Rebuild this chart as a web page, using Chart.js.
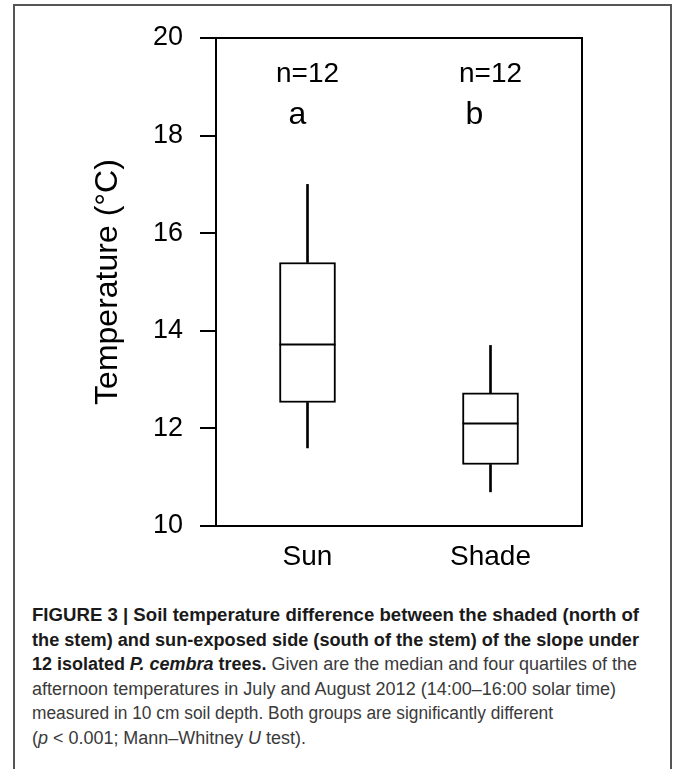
<!DOCTYPE html>
<html><head><meta charset="utf-8">
<script src="https://cdn.jsdelivr.net/npm/chart.js@4.4.1/dist/chart.umd.min.js"></script>
<style>
html,body{margin:0;padding:0;background:#fff;width:673px;height:769px;overflow:hidden;}
#frame{position:absolute;left:13px;top:4px;width:655px;height:800px;border:2px solid #555;border-bottom:none;}
#wrap{position:absolute;left:0;top:0;width:673px;height:600px;}
#caption{position:absolute;left:32px;top:603px;font-family:"Liberation Sans",Arial,sans-serif;font-size:18px;line-height:24.5px;color:#3a3a3a;}
#caption .ln{white-space:nowrap;display:block;width:max-content;transform-origin:0 50%;}
#caption b{color:#1a1a1a;}
</style></head>
<body>
<div id="frame"></div>
<div id="wrap"><canvas id="c"></canvas></div>
<div id="caption">
<span class="ln"><b>FIGURE 3 | Soil temperature difference between the shaded (north of</b></span>
<span class="ln"><b>the stem) and sun-exposed side (south of the stem) of the slope under</b></span>
<span class="ln"><b>12 isolated <i>P. cembra</i> trees.</b> Given are the median and four quartiles of the</span>
<span class="ln">afternoon temperatures in July and August 2012 (14:00–16:00 solar time)</span>
<span class="ln">measured in 10 cm soil depth. Both groups are significantly different</span>
<span class="ln">(<i>p</i> &lt; 0.001; Mann–Whitney <i>U</i> test).</span>
</div>
<script>
const categories = ['Sun', 'Shade'];
const whiskerLow = [11.6, 10.7];
const quartile1 = [12.53, 11.26];
const medians = [13.72, 12.1];
const quartile3 = [15.4, 12.73];
const whiskerHigh = [17.0, 13.7];
const sampleSizes = ['n=12', 'n=12'];
const groupLetters = ['a', 'b'];
const yTicks = [10, 12, 14, 16, 18, 20];

const FONT = '"Liberation Sans", Arial, sans-serif';
const letterShift = [-10, -16];

const framePlugin = {
  id: 'frame',
  afterDraw(chart) {
    const {ctx, chartArea: a, scales: {x: xs, y: ys}} = chart;
    ctx.save();
    ctx.strokeStyle = '#000';
    ctx.lineWidth = 2;
    ctx.strokeRect(a.left, a.top, a.right - a.left, a.bottom - a.top);
    ctx.fillStyle = '#000';
    ctx.textAlign = 'center';
    ctx.textBaseline = 'alphabetic';
    categories.forEach((c, i) => {
      const x = xs.getPixelForValue(i);
      ctx.font = '28px ' + FONT;
      ctx.fillText(sampleSizes[i], x, ys.getPixelForValue(19.09));
      ctx.font = '32px ' + FONT;
      ctx.fillText(groupLetters[i], x + letterShift[i], ys.getPixelForValue(18.23));
    });
    ctx.restore();
  }
};

new Chart(document.getElementById('c'), {
  type: 'bar',
  data: {
    labels: categories,
    datasets: [
      {
        type: 'line', label: 'median', data: medians, showLine: false,
        pointStyle: 'line', pointRadius: 28, pointHoverRadius: 28,
        pointBorderWidth: 2, borderColor: '#000', backgroundColor: '#000', order: 0
      },
      {
        label: 'box', data: categories.map((c, i) => [quartile1[i], quartile3[i]]),
        backgroundColor: '#fff', borderColor: '#000', borderWidth: 2, borderSkipped: false,
        barThickness: 56, grouped: false, order: 1
      },
      {
        label: 'lower whisker', data: categories.map((c, i) => [whiskerLow[i], quartile1[i]]),
        backgroundColor: '#000', borderWidth: 0, barThickness: 2, grouped: false, order: 2
      },
      {
        label: 'upper whisker', data: categories.map((c, i) => [quartile3[i], whiskerHigh[i]]),
        backgroundColor: '#000', borderWidth: 0, barThickness: 2, grouped: false, order: 2
      }
    ]
  },
  options: {
    responsive: true, maintainAspectRatio: false, animation: false, events: [],
    layout: {padding: {left: 89, right: 91, top: 38, bottom: 0}},
    plugins: {legend: {display: false}, tooltip: {enabled: false}},
    scales: {
      x: {
        grid: {display: false, drawTicks: false},
        border: {display: true, color: '#000', width: 2},
        ticks: {color: '#000', font: {size: 28, family: FONT}, padding: 14},
        afterFit: s => { s.height = 74; }
      },
      y: {
        min: 10, max: 20,
        afterBuildTicks: s => { s.ticks = yTicks.map(v => ({value: v})); },
        ticks: {color: '#000', font: {size: 27, family: FONT}, padding: 17},
        grid: {drawOnChartArea: false, drawTicks: true, tickLength: 16, color: '#000', lineWidth: 2},
        border: {display: true, color: '#000', width: 2},
        title: {display: true, text: 'Temperature (°C)', color: '#000', font: {size: 32, family: FONT}, padding: 0},
        afterFit: s => { s.width = 127; }
      }
    }
  },
  plugins: [framePlugin]
});

const targets = [607, 607, 605, 584, 521, 274];
document.querySelectorAll('#caption .ln').forEach((el, i) => {
  const w = el.getBoundingClientRect().width;
  el.style.transform = 'scaleX(' + (targets[i] / w) + ')';
});
</script>
</body></html>
